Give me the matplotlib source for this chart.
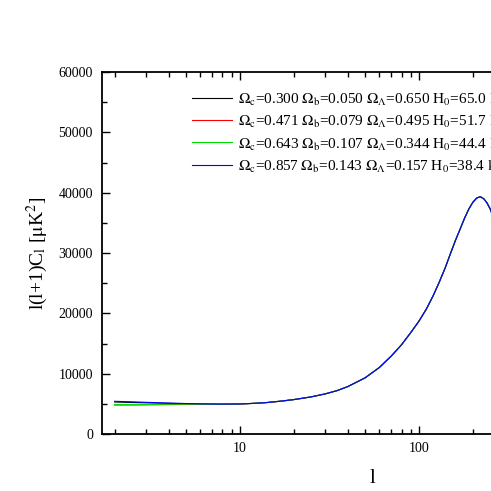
import numpy as np
import matplotlib
matplotlib.use("Agg")
import matplotlib.pyplot as plt

plt.rcParams['font.family'] = ['Liberation Serif', 'DejaVu Serif']
plt.rcParams['mathtext.fontset'] = 'stix'

# multipole values and l(l+1)C_l
ell = [2, 2.5, 3, 4, 5, 6, 7, 8, 10, 12, 14, 17, 20, 25, 30, 35, 40, 50, 60, 70,
       80, 90, 100, 110, 120, 130, 140, 150, 160, 170, 180, 190, 200, 210, 220,
       230, 240, 250, 260]
tail = [5080, 5200, 5450, 5700, 6150, 6650, 7200, 7850, 9300, 11000, 12900,
        14800, 16800, 18700, 20700, 22900, 25200, 27500, 29900, 32100, 34000,
        35800, 37300, 38400, 39100, 39330, 39000, 38300, 37300, 35900]
cl_black = [5300, 5230, 5170, 5080, 5020, 4980, 4960, 4950, 4980] + tail
cl_red = [4800, 4810, 4830, 4870, 4900, 4920, 4930, 4940, 4970] + tail
cl_green = [4900, 4900, 4910, 4930, 4940, 4950, 4950, 4950, 4980] + tail
cl_blue = [5420, 5330, 5250, 5130, 5050, 5000, 4970, 4955, 4980] + tail

labels = [
    r'$\mathrm{\Omega_c}$=0.300 $\mathrm{\Omega_b}$=0.050 $\mathrm{\Omega_\Lambda}$=0.650 $\mathrm{H_0}$=65.0 km/s/Mpc',
    r'$\mathrm{\Omega_c}$=0.471 $\mathrm{\Omega_b}$=0.079 $\mathrm{\Omega_\Lambda}$=0.495 $\mathrm{H_0}$=51.7 km/s/Mpc',
    r'$\mathrm{\Omega_c}$=0.643 $\mathrm{\Omega_b}$=0.107 $\mathrm{\Omega_\Lambda}$=0.344 $\mathrm{H_0}$=44.4 km/s/Mpc',
    r'$\mathrm{\Omega_c}$=0.857 $\mathrm{\Omega_b}$=0.143 $\mathrm{\Omega_\Lambda}$=0.157 $\mathrm{H_0}$=38.4 km/s/Mpc',
]
colors = ['black', 'red', '#00dd00', 'blue']

fig = plt.figure(figsize=(4.91, 4.91), dpi=100)
# axes run past the right edge of the image, as in the original crop
ax = fig.add_axes([102/491, 57/491, 540/491, 362/491])

for cl, c, lab in zip([cl_black, cl_red, cl_green, cl_blue], colors, labels):
    ax.plot(ell, cl, color=c, lw=0.8, label=lab)

ax.set_xscale('log')
ax.set_xlim(1.7, 1760)
ax.set_ylim(0, 60000)
ax.set_yticks(np.arange(0, 60001, 10000))
ax.set_yticks(np.arange(5000, 60000, 10000), minor=True)
ax.xaxis.set_major_formatter(matplotlib.ticker.FormatStrFormatter('%d'))

ax.tick_params(which='both', direction='in', top=True, right=True, width=1.0,
               labelsize=10)
ax.tick_params(which='major', length=6)
ax.tick_params(which='minor', length=3.5)
ax.tick_params(axis='y', pad=6.5)
ax.tick_params(axis='x', pad=6)
for s in ax.spines.values():
    s.set_linewidth(1.3)

ax.set_xlabel('l', fontsize=15, labelpad=10)
ax.set_ylabel(r'l(l+1)C$_\mathrm{l}$ [$\mathrm{\mu}$K$^2$]', fontsize=14, labelpad=6)

fig.legend(loc='upper left', bbox_to_anchor=(192/491, 1 - 91/491),
           frameon=False, fontsize=11, handlelength=2.6, handletextpad=0.4,
           labelspacing=0.35, borderpad=0, borderaxespad=0)

fig.savefig('out.png', dpi=100)
